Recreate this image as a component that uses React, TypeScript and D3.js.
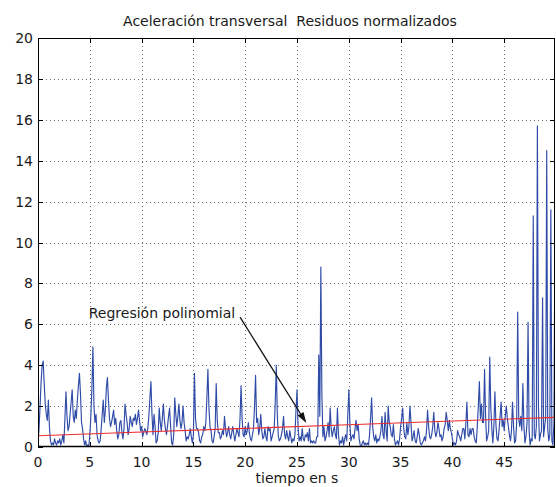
import React from 'react';
import * as d3 from 'd3';

// time sampling of the residual series (s)
const T_START = 0;
const T_STEP = 0.1;

// normalized residuals, one row per second (10 samples each)
const residuals: number[] = [
  0.2, 0.9, 2.0, 3.2, 4.0, 4.2, 3.1, 2.1, 1.6, 1.3,
  2.3, 1.0, 0.3, 0.1, 0.2, 0.1, 0.4, 0.2, 0.1, 0.3,
  0.2, 0.4, 0.1, 0.3, 0.6, 0.2, 1.4, 2.7, 1.5, 0.8,
  1.0, 1.6, 2.2, 2.8, 1.5, 1.2, 1.8, 1.4, 2.3, 3.0,
  3.6, 2.6, 1.2, 0.9, 0.4, 0.1, 0.3, 0.0, 0.1, 0.0,
  0.6, 1.5, 2.8, 4.9, 2.0, 1.2, 1.6, 0.6, 0.3, 0.2,
  0.3, 0.9, 1.6, 2.3, 1.2, 1.8, 2.9, 3.4, 2.3, 1.4,
  1.0, 1.2, 1.5, 1.8, 1.1, 1.4, 0.8, 0.4, 0.6, 1.2,
  1.3, 0.7, 0.4, 0.9, 2.1, 1.6, 1.2, 0.6, 0.9, 1.5,
  1.2, 1.0, 1.4, 1.3, 1.6, 1.1, 1.4, 1.8, 1.3, 0.8,
  1.0, 0.5, 0.7, 0.9, 0.8, 0.6, 0.9, 1.5, 2.4, 3.2,
  1.6, 0.6, 1.6, 1.0, 0.2, 0.3, 0.7, 1.9, 1.2, 0.8,
  1.4, 2.1, 1.3, 0.9, 0.6, 1.0, 1.5, 1.9, 1.0, 0.2,
  0.1, 0.6, 2.4, 1.6, 1.0, 1.5, 2.1, 1.3, 0.9, 1.2,
  2.0, 1.2, 0.8, 0.3, 0.5, 0.4, 0.6, 0.9, 0.5, 0.2,
  0.6, 3.6, 1.4, 0.9, 0.9, 0.7, 0.3, 0.2, 0.5, 0.6,
  1.0, 0.8, 1.2, 2.4, 3.8, 1.9, 1.0, 0.8, 0.3, 0.2,
  0.5, 0.9, 3.1, 1.3, 0.7, 0.7, 0.4, 0.5, 0.8, 0.6,
  1.5, 0.9, 0.5, 0.7, 1.0, 0.6, 0.4, 0.7, 1.0, 0.6,
  0.3, 0.6, 0.9, 0.7, 0.5, 1.4, 3.0, 1.4, 0.6, 0.5,
  1.0, 0.6, 0.8, 1.2, 0.7, 0.4, 0.3, 0.6, 0.9, 2.0,
  3.5, 1.2, 1.4, 0.6, 0.9, 1.6, 0.8, 0.4, 0.5, 0.9,
  0.5, 0.3, 1.0, 0.8, 0.9, 0.3, 0.5, 0.7, 0.9, 2.2,
  4.0, 1.5, 0.5, 0.3, 0.4, 0.6, 0.9, 1.5, 0.6, 0.4,
  0.8, 0.5, 0.3, 0.8, 0.5, 0.2, 0.4, 0.3, 0.6, 1.8,
  2.8, 1.0, 0.3, 0.5, 0.3, 0.9, 0.4, 0.3, 0.6, 0.5,
  0.7, 0.3, 0.9, 0.2, 0.3, 0.2, 0.3, 0.2, 0.2, 0.5,
  0.5, 4.5, 1.5, 8.8, 2.5, 0.5, 1.0, 0.3, 0.5, 0.8,
  1.2, 0.5, 1.9, 0.9, 0.5, 0.8, 1.0, 0.6, 0.4, 1.9,
  0.6, 0.1, 0.3, 0.2, 0.5, 0.1, 0.4, 0.6, 0.3, 1.5,
  2.8, 1.2, 0.3, 0.5, 0.6, 0.4, 0.9, 1.3, 0.8, 1.1,
  0.4, 0.1, 0.0, 0.2, 0.3, 0.1, 0.2, 0.1, 0.2, 0.1,
  0.6, 1.4, 2.4, 1.0, 0.5, 0.3, 0.6, 0.2, 0.4, 0.3,
  0.5, 0.8, 1.5, 0.6, 0.4, 1.7, 0.8, 0.3, 2.0, 1.2,
  1.0, 0.6, 0.5, 1.1, 0.4, 0.1, 0.2, 0.3, 0.1, 0.4,
  1.0, 1.4, 1.9, 0.9, 0.5, 0.4, 1.2, 0.6, 1.0, 2.0,
  1.2, 0.3, 0.5, 0.8, 0.3, 0.2, 0.5, 0.9, 0.6, 0.2,
  0.1, 0.2, 0.3, 0.5, 0.3, 0.8, 1.8, 1.0, 0.5, 0.4,
  0.6, 1.0, 1.7, 0.8, 0.5, 0.7, 1.2, 0.9, 0.5, 0.6,
  0.3, 0.5, 0.9, 1.1, 1.7, 1.3, 0.8, 1.3, 0.9, 0.7,
  0.4, 0.1, 0.2, 0.1, 0.3, 0.8, 0.6, 0.5, 0.3, 0.6,
  0.9, 0.9, 0.4, 1.2, 2.2, 0.6, 0.5, 0.9, 0.6, 0.9,
  0.9, 0.5, 0.3, 0.2, 1.0, 2.0, 3.2, 1.4, 2.1, 1.2,
  1.2, 3.8, 1.5, 0.3, 0.5, 0.8, 4.4, 2.0, 0.9, 0.2,
  1.0, 2.7, 1.1, 0.4, 0.3, 0.8, 1.5, 2.2, 1.0, 1.3,
  0.8, 1.5, 2.0, 1.4, 1.0, 0.6, 0.3, 0.8, 2.2, 1.0,
  0.2, 0.3, 1.2, 6.6, 1.4, 1.0, 1.5, 0.8, 3.1, 1.0,
  0.2, 0.5, 1.2, 6.1, 0.8, 0.1, 0.4, 0.3, 11.3, 0.6,
  0.4, 1.0, 15.7, 2.0, 0.3, 0.6, 0.8, 7.3, 0.5, 1.0,
  1.4, 14.5, 0.9, 0.3, 0.6, 11.6, 0.3, 0.1, 1.2, 11.3,
];

// polynomial regression curve (read at a few times)
const regTimes = [0, 10, 20, 30, 40, 50];
const regValues = [0.55, 0.73, 0.91, 1.09, 1.27, 1.45];

const xTicks = [0, 5, 10, 15, 20, 25, 30, 35, 40, 45];
const yTicks = [0, 2, 4, 6, 8, 10, 12, 14, 16, 18, 20];
const xDomain = [0, 49.9];
const yDomain = [0, 20];

const titleText = 'Aceleración transversal  Residuos normalizados';
const xLabelText = 'tiempo en s';
const annotationText = 'Regresión polinomial';
const annotationTextAt = [4.9, 6.3];
const arrowFrom = [19.5, 6.35];
const arrowTo = [25.9, 1.17];

const FONT = '"DejaVu Sans", Verdana, sans-serif';

export default function App() {
  const W = 556, H = 487;
  const L = 38, R = 555, T = 38, B = 447;
  const x = d3.scaleLinear().domain(xDomain).range([L, R]);
  const y = d3.scaleLinear().domain(yDomain).range([B, T]);

  const resLine = d3.line<number>()
    .x((_, i) => x(T_START + i * T_STEP))
    .y((d) => y(d))(residuals) || '';
  const regLine = d3.line<number>()
    .x((_, i) => x(regTimes[i]))
    .y((d) => y(d))(regValues) || '';

  const ax0 = x(arrowFrom[0]), ay0 = y(arrowFrom[1]);
  const ax1 = x(arrowTo[0]), ay1 = y(arrowTo[1]);
  const ang = Math.atan2(ay1 - ay0, ax1 - ax0);
  const hl = 11, hw = 3.5;
  const bx = ax1 - hl * Math.cos(ang), by = ay1 - hl * Math.sin(ang);
  const head = `M${ax1},${ay1} L${bx + hw * Math.sin(ang)},${by - hw * Math.cos(ang)} L${bx - hw * Math.sin(ang)},${by + hw * Math.cos(ang)} Z`;

  const tickLen = 5;
  const fs = 14;
  return (
    <svg width={W} height={H} style={{ position: 'absolute', left: 0, top: 0, background: '#fff' }}
      fontFamily={FONT}>
      <defs>
        <clipPath id="plotclip">
          <rect x={L} y={T} width={R - L} height={B - T} />
        </clipPath>
      </defs>
      <rect x={0} y={0} width={W} height={H} fill="#fff" />
      {/* grid */}
      {xTicks.filter((t) => t > 0).map((t) => (
        <line key={'gx' + t} x1={Math.round(x(t)) + 0.5} x2={Math.round(x(t)) + 0.5} y1={T} y2={B}
          stroke="#707070" strokeWidth={1} strokeDasharray="1,3" />
      ))}
      {yTicks.filter((t) => t > 0 && t < 20).map((t) => (
        <line key={'gy' + t} x1={L} x2={R} y1={Math.round(y(t)) + 0.5} y2={Math.round(y(t)) + 0.5}
          stroke="#707070" strokeWidth={1} strokeDasharray="1,3" />
      ))}
      {/* data */}
      <g clipPath="url(#plotclip)">
        <path d={resLine} fill="none" stroke="#2f4ba8" strokeWidth={1.15} strokeLinejoin="round" />
        <path d={regLine} fill="none" stroke="#ee2a2a" strokeWidth={1.1} />
      </g>
      {/* axes box */}
      <rect x={L + 0.5} y={T + 0.5} width={R - L - 1} height={B - T - 1} fill="none" stroke="#000" strokeWidth={1} />
      <line x1={L} x2={R} y1={B - 0.5} y2={B - 0.5} stroke="#000" strokeWidth={1.5} />
      {/* ticks */}
      {xTicks.map((t) => (
        <g key={'tx' + t}>
          <line x1={Math.round(x(t)) + 0.5} x2={Math.round(x(t)) + 0.5} y1={B} y2={B - tickLen} stroke="#000" />
          <line x1={Math.round(x(t)) + 0.5} x2={Math.round(x(t)) + 0.5} y1={T} y2={T + tickLen} stroke="#000" />
          <text x={x(t)} y={467} textAnchor="middle" fontSize={fs} fill="#1a1a1a">{t}</text>
        </g>
      ))}
      {yTicks.map((t) => (
        <g key={'ty' + t}>
          <line x1={L} x2={L + tickLen} y1={Math.round(y(t)) + 0.5} y2={Math.round(y(t)) + 0.5} stroke="#000" />
          <line x1={R} x2={R - tickLen} y1={Math.round(y(t)) + 0.5} y2={Math.round(y(t)) + 0.5} stroke="#000" />
          <text x={33} y={y(t) + 5} textAnchor="end" fontSize={fs} fill="#1a1a1a">{t}</text>
        </g>
      ))}
      {/* title and label */}
      <text x={290} y={26} textAnchor="middle" fontSize={fs} fill="#1a1a1a" style={{ whiteSpace: 'pre' }}>{titleText}</text>
      <text x={297} y={483} textAnchor="middle" fontSize={fs} fill="#1a1a1a">{xLabelText}</text>
      {/* annotation */}
      <text x={x(annotationTextAt[0])} y={y(annotationTextAt[1])} fontSize={fs} fill="#1a1a1a">{annotationText}</text>
      <line x1={ax0} y1={ay0} x2={bx} y2={by} stroke="#111" strokeWidth={1.3} />
      <path d={head} fill="#111" />
    </svg>
  );
}
